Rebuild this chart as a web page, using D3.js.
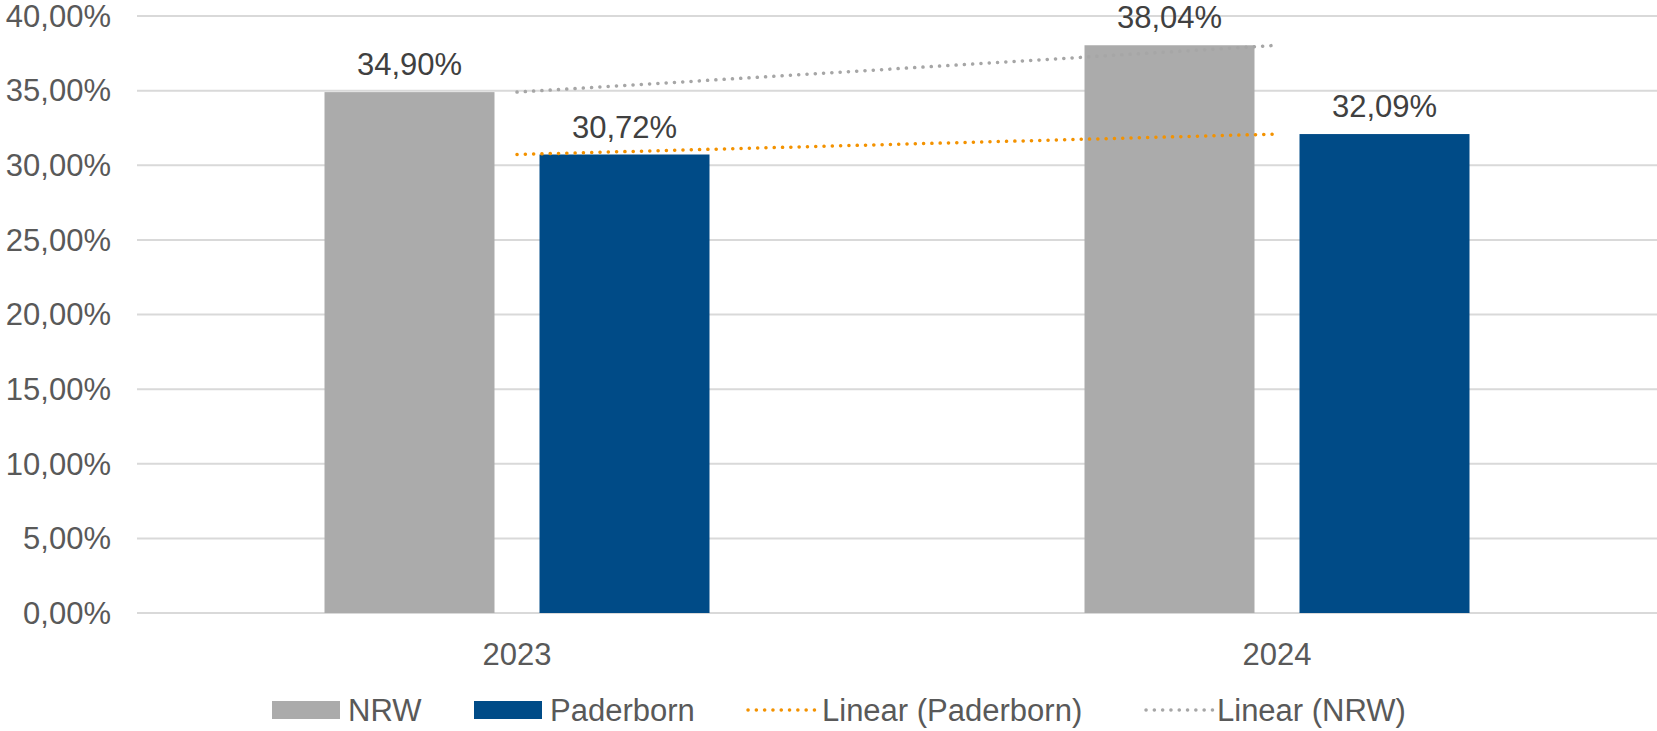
<!DOCTYPE html>
<html><head><meta charset="utf-8">
<script src="https://cdn.jsdelivr.net/npm/d3@7"></script>
<style>body{margin:0;background:#fff}svg{display:block}text{font-family:"Liberation Sans",Arial,sans-serif;fill:#595959}</style>
</head><body><svg id="c" width="1657" height="731"></svg>
<script>
const categories = ["2023", "2024"];
const seriesNames = ["NRW", "Paderborn"];
const nrwValues = [34.90, 38.04];
const paderbornValues = [30.72, 32.09];
const yTicks = [0, 5, 10, 15, 20, 25, 30, 35, 40];
const legendLabels = ["NRW", "Paderborn", "Linear (Paderborn)", "Linear (NRW)"];

(function () {
const colors = {NRW: "#ababab", Paderborn: "#004b87", trendP: "#f39200", trendN: "#a6a6a6"};
const fmt = v => v.toFixed(2).replace(".", ",") + "%";

const svg = d3.select("#c");
const pLeft = 137, pRight = 1657, pTop = 16, pBottom = 613;
const x = d3.scaleBand().domain(categories).range([pLeft, pRight]);
const y = d3.scaleLinear().domain([0, 40]).range([pBottom, pTop]);
const barW = 170, innerGap = 45;
const groupW = 2 * barW + innerGap;
const off = (x.bandwidth() - groupW) / 2;
const barX = (cat, s) => x(cat) + off + seriesNames.indexOf(s) * (barW + innerGap);

svg.append("g").selectAll("line").data(yTicks).join("line")
  .attr("x1", pLeft).attr("x2", pRight)
  .attr("y1", d => y(d)).attr("y2", d => y(d))
  .attr("stroke", "#d9d9d9").attr("stroke-width", 2);

svg.append("g").selectAll("text").data(yTicks).join("text")
  .attr("x", 111).attr("y", d => y(d)).attr("dy", "0.35em")
  .attr("text-anchor", "end").style("font-size", "31px")
  .text(d => d.toFixed(2).replace(".", ",") + "%");

const data = [];
categories.forEach((c, i) => {
  data.push({cat: c, s: "NRW", v: nrwValues[i]});
  data.push({cat: c, s: "Paderborn", v: paderbornValues[i]});
});

svg.append("g").selectAll("rect").data(data).join("rect")
  .attr("x", d => barX(d.cat, d.s)).attr("width", barW)
  .attr("y", d => y(d.v)).attr("height", d => y(0) - y(d.v))
  .attr("fill", d => colors[d.s]);

svg.append("g").selectAll("text").data(data).join("text")
  .attr("x", d => barX(d.cat, d.s) + barW / 2).attr("y", d => y(d.v) - 17)
  .attr("text-anchor", "middle").style("font-size", "31px").style("fill", "#404040")
  .text(d => fmt(d.v));

const cx = c => x(c) + x.bandwidth() / 2;
const line = d3.line().x(d => cx(d[0])).y(d => y(d[1]));
[{vals: paderbornValues, color: colors.trendP}, {vals: nrwValues, color: colors.trendN}].forEach(t => {
  svg.append("path").datum(categories.map((c, i) => [c, t.vals[i]]))
    .attr("d", line).attr("fill", "none").attr("stroke", t.color)
    .attr("stroke-width", 3.5).attr("stroke-linecap", "round")
    .attr("stroke-dasharray", "0.1 8.2");
});

svg.append("g").selectAll("text").data(categories).join("text")
  .attr("x", d => cx(d)).attr("y", 665).attr("text-anchor", "middle")
  .style("font-size", "31px").text(d => d);

const lg = svg.append("g");
const ly = 710;
const items = [
  {type: "rect", color: colors.NRW, x0: 272, tx: 348, label: legendLabels[0]},
  {type: "rect", color: colors.Paderborn, x0: 474, tx: 550, label: legendLabels[1]},
  {type: "line", color: colors.trendP, x0: 747, tx: 822, label: legendLabels[2]},
  {type: "line", color: colors.trendN, x0: 1145, tx: 1217, label: legendLabels[3]}
];
items.forEach(it => {
  if (it.type === "rect") {
    lg.append("rect").attr("x", it.x0).attr("y", ly - 9).attr("width", 68).attr("height", 18).attr("fill", it.color);
  } else {
    lg.append("line").attr("x1", it.x0 + 1).attr("x2", it.x0 + 68).attr("y1", ly).attr("y2", ly)
      .attr("stroke", it.color).attr("stroke-width", 3.5).attr("stroke-linecap", "round").attr("stroke-dasharray", "0.1 8.2");
  }
  lg.append("text").attr("x", it.tx).attr("y", ly).attr("dy", "0.35em").style("font-size", "31px").text(it.label);
});
})();
</script></body></html>
